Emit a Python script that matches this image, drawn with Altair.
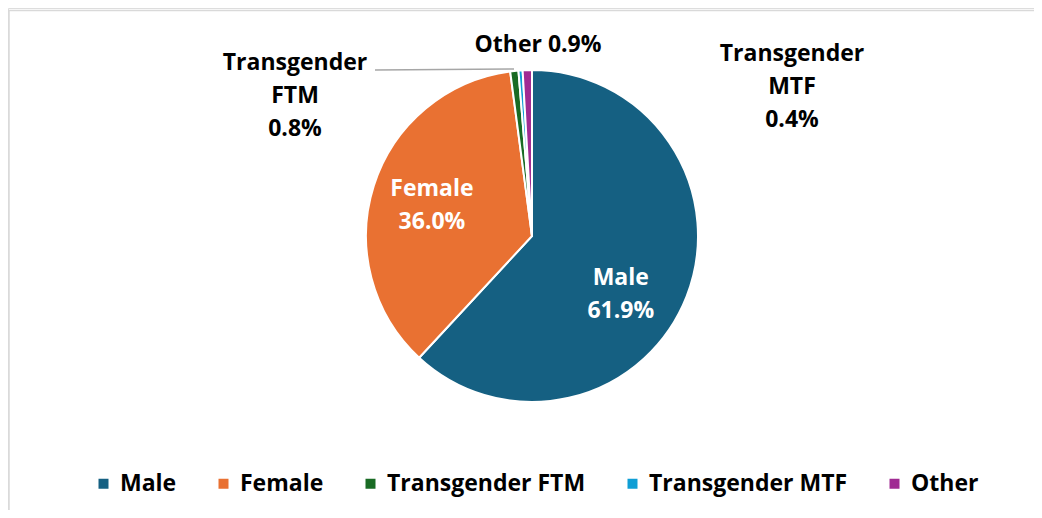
import altair as alt
import pandas as pd

categories = ["Male", "Female", "Transgender FTM", "Transgender MTF", "Other"]
values = [61.9, 36.0, 0.8, 0.4, 0.9]
label_lines = ["Male\n61.9%", "Female\n36.0%", "Transgender\nFTM\n0.8%", "Transgender\nMTF\n0.4%", "Other 0.9%"]
colors = ["#156082", "#E97132", "#196B24", "#0F9ED5", "#A02B93"]

df = pd.DataFrame({
    "category": categories,
    "value": values,
    "label": label_lines,
    "order": list(range(len(categories))),
})

FONT = "Open Sans"
FS = 23
CX, CY, R = 524, 228, 166

base = alt.Chart(df)

color = alt.Color("category:N",
                  scale=alt.Scale(domain=categories, range=colors),
                  sort=categories,
                  legend=alt.Legend(title=None, orient="none", direction="horizontal",
                                    legendX=84, legendY=464, symbolType="square",
                                    symbolSize=100, symbolStrokeWidth=0,
                                    labelFont=FONT, labelFontWeight="bold",
                                    labelFontSize=FS, labelColor="#000000",
                                    labelLimit=0,
                                    columnPadding=35, labelOffset=5, padding=0))

theta = alt.Theta("value:Q", stack=True)
order = alt.Order("order:Q")

pie = base.mark_arc(outerRadius=R, stroke="white", strokeWidth=2).encode(
    theta=theta, color=color, order=order,
    x=alt.value(CX), y=alt.value(CY))


def inner(cat, dx, dy):
    return base.mark_text(
        radius=105, font=FONT, fontWeight="bold", fontSize=FS, color="white",
        lineBreak="\n", lineHeight=33, align="center", baseline="middle",
        dx=dx, dy=dy).encode(
        theta=theta, order=order,
        text=alt.condition(alt.datum.category == cat, "label:N", alt.value("")),
        x=alt.value(CX), y=alt.value(CY))


def outside(cat, x, y):
    return base.transform_filter(alt.datum.category == cat).mark_text(
        font=FONT, fontWeight="bold", fontSize=FS, color="#000000",
        lineBreak="\n", lineHeight=33, align="center", baseline="middle").encode(
        text="label:N", x=alt.value(x), y=alt.value(y))


leader = base.transform_filter(alt.datum.category == "Transgender FTM").mark_rule(
    color="#A6A6A6", strokeWidth=1.5).encode(
    x=alt.value(367), x2=alt.value(506), y=alt.value(62), y2=alt.value(61))

frame_top = base.transform_filter(alt.datum.order == 0).mark_rule(
    color="#D9D9D9", strokeWidth=1.5).encode(
    x=alt.value(0), x2=alt.value(1026), y=alt.value(2.5), y2=alt.value(2.5))
frame_left = base.transform_filter(alt.datum.order == 0).mark_rule(
    color="#D9D9D9", strokeWidth=1.5).encode(
    x=alt.value(1), x2=alt.value(1), y=alt.value(2), y2=alt.value(502))

chart = alt.layer(
    frame_top, frame_left,
    pie, leader,
    inner("Male", -9, 4),
    inner("Female", 0, -15),
    outside("Transgender FTM", 287, 55),
    outside("Other", 530, 37),
    outside("Transgender MTF", 784, 46),
).properties(
    width=1026, height=502, autosize="none", padding=0
).configure_view(stroke=None).configure(background="white")

chart.save("out.html", embed_options={"renderer": "svg", "actions": False})
